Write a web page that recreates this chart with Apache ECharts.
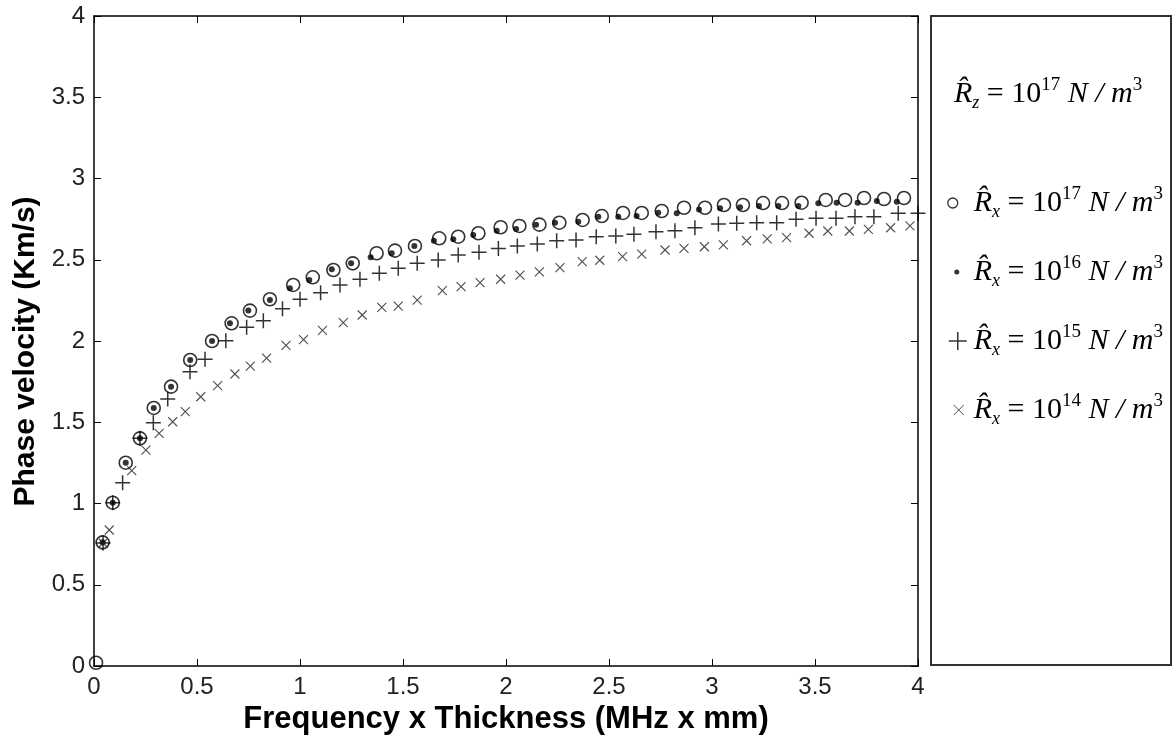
<!DOCTYPE html>
<html><head><meta charset="utf-8">
<script src="https://cdn.jsdelivr.net/npm/echarts@6/dist/echarts.min.js"></script>
<style>html,body{margin:0;padding:0;background:#fff}#c{width:1172px;height:740px}</style>
</head><body><div id="c"></div>
<script>
// ---- data ----
const xTickLabels = ['0','0.5','1','1.5','2','2.5','3','3.5','4'];
const yTickLabels = ['0','0.5','1','1.5','2','2.5','3','3.5','4'];

const r17X = [0.01,0.042,0.091,0.154,0.223,0.29,0.374,0.467,0.573,0.668,0.757,0.854,0.967,1.062,1.162,1.256,1.372,1.461,1.558,1.676,1.768,1.866,1.974,2.065,2.162,2.259,2.372,2.465,2.568,2.659,2.756,2.864,2.966,3.058,3.15,3.248,3.34,3.435,3.552,3.646,3.738,3.835,3.932];
const r17Y = [0.02,0.761,1.005,1.251,1.401,1.588,1.719,1.883,2.0,2.109,2.187,2.257,2.345,2.392,2.437,2.478,2.54,2.556,2.585,2.632,2.642,2.663,2.70,2.708,2.716,2.728,2.745,2.769,2.788,2.788,2.80,2.82,2.82,2.837,2.837,2.849,2.849,2.851,2.868,2.868,2.88,2.874,2.88];

const r16X = [0.042,0.091,0.154,0.223,0.29,0.374,0.467,0.573,0.66,0.749,0.854,0.951,1.045,1.154,1.248,1.343,1.445,1.555,1.65,1.744,1.841,1.955,2.049,2.146,2.238,2.351,2.448,2.545,2.634,2.739,2.829,2.937,3.039,3.136,3.228,3.322,3.419,3.516,3.605,3.707,3.8,3.897];
const r16Y = [0.761,1.005,1.251,1.401,1.588,1.719,1.883,2.0,2.109,2.187,2.252,2.324,2.375,2.441,2.478,2.515,2.54,2.585,2.617,2.626,2.652,2.679,2.689,2.716,2.728,2.734,2.765,2.765,2.769,2.79,2.786,2.81,2.817,2.823,2.831,2.831,2.831,2.847,2.851,2.851,2.862,2.857];

const r15X = [0.044,0.091,0.139,0.223,0.288,0.358,0.466,0.539,0.64,0.741,0.822,0.915,1.0,1.1,1.194,1.291,1.385,1.477,1.569,1.671,1.768,1.869,1.963,2.055,2.152,2.246,2.34,2.438,2.533,2.621,2.728,2.82,2.917,3.031,3.12,3.217,3.314,3.408,3.505,3.602,3.694,3.786,3.904,4.0];
const r15Y = [0.757,1.005,1.128,1.401,1.497,1.643,1.811,1.887,2.002,2.084,2.125,2.198,2.257,2.297,2.345,2.38,2.417,2.447,2.478,2.498,2.529,2.546,2.57,2.585,2.597,2.617,2.622,2.642,2.646,2.657,2.673,2.679,2.697,2.72,2.724,2.728,2.728,2.749,2.755,2.755,2.765,2.765,2.786,2.786];

const r14X = [0.044,0.074,0.183,0.252,0.316,0.382,0.443,0.518,0.6,0.684,0.759,0.838,0.932,1.017,1.109,1.21,1.302,1.397,1.477,1.569,1.691,1.782,1.874,1.974,2.068,2.162,2.262,2.37,2.455,2.566,2.659,2.772,2.864,2.963,3.055,3.168,3.268,3.362,3.471,3.562,3.667,3.759,3.867,3.961];
const r14Y = [0.757,0.837,1.202,1.329,1.432,1.503,1.565,1.657,1.725,1.797,1.846,1.895,1.973,2.008,2.065,2.113,2.16,2.207,2.215,2.252,2.31,2.334,2.359,2.38,2.406,2.426,2.451,2.488,2.497,2.519,2.534,2.56,2.57,2.58,2.591,2.617,2.628,2.636,2.663,2.677,2.677,2.687,2.697,2.708];

const seriesNames = ['Rx17','Rx16','Rx15','Rx14'];
const seriesExps = ['17','16','15','14'];
const titleExp = '17';
const xName = 'Frequency x Thickness (MHz x mm)';
const yName = 'Phase velocity (Km/s)';

// ---- build ----
const pairs = (xs, ys) => xs.map((x, i) => [x, ys[i]]);
const serif = 'Liberation Serif';
const rich = {
  R:   {fontFamily: serif, fontStyle: 'italic', fontSize: 30, lineHeight: 36, color: '#000'},
  sub: {fontFamily: serif, fontStyle: 'italic', fontSize: 18, lineHeight: 8, verticalAlign: 'bottom', color: '#000'},
  t:   {fontFamily: serif, fontSize: 30, lineHeight: 36, color: '#000'},
  sup: {fontFamily: serif, fontSize: 19, lineHeight: 20, verticalAlign: 'top', color: '#000'},
  it:  {fontFamily: serif, fontStyle: 'italic', fontSize: 30, lineHeight: 36, color: '#000'}
};
const eqText = (sub, exp) => '{R|R\u0302}{sub|' + sub + '}{t| = 10}{sup|' + exp + '}{it| N / m}{sup|3}';

const PLUS = 'path://M0,5L10,5M5,0L5,10';
const CROSS = 'path://M0,0L10,10M10,0L0,10';
const legendIcons = [
  'path://M0,0M28,24M17,12A5,5,0,1,1,7,12A5,5,0,1,1,17,12Z',
  'path://M0,0M28,24M18.5,12A2.5,2.5,0,1,1,13.5,12A2.5,2.5,0,1,1,18.5,12Z',
  'path://M0,0M28,24M8,12L26,12M17,3L17,21',
  'path://M0,0M28,24M13,7L23,17M23,7L13,17'
];
const legendStyles = [
  {color: 'transparent', borderColor: '#000', borderWidth: 1.3},
  {color: '#000', borderWidth: 0},
  {color: 'transparent', borderColor: '#000', borderWidth: 1.5},
  {color: 'transparent', borderColor: '#222', borderWidth: 1}
];

const axisLine = {show: true, onZero: false, lineStyle: {color: '#000', width: 1.5}};
const axisTick = {show: true, inside: true, length: 7, lineStyle: {color: '#000', width: 1}};
const tickFont = {fontFamily: 'Liberation Sans', fontSize: 24, color: '#222'};
const nameFont = {fontFamily: 'Liberation Sans', fontWeight: 'bold', color: '#000'};

const chart = echarts.init(document.getElementById('c'), null, {renderer: 'canvas'});
chart.setOption({
  animation: false,
  backgroundColor: '#fff',
  grid: {left: 94, top: 16, right: 254, bottom: 74, containLabel: false},
  xAxis: [
    {type: 'value', min: 0, max: 4, interval: 0.5, position: 'bottom',
     axisLine, axisTick, splitLine: {show: false},
     axisLabel: Object.assign({margin: 9, formatter: v => xTickLabels[Math.round(v / 0.5)]}, tickFont),
     name: xName, nameLocation: 'middle', nameGap: 28,
     nameTextStyle: Object.assign({fontSize: 31}, nameFont)},
    {type: 'value', min: 0, max: 4, interval: 0.5, position: 'top',
     axisLine, axisTick, splitLine: {show: false}, axisLabel: {show: false}}
  ],
  yAxis: [
    {type: 'value', min: 0, max: 4, interval: 0.5, position: 'left',
     axisLine, axisTick, splitLine: {show: false},
     axisLabel: Object.assign({margin: 9, formatter: v => yTickLabels[Math.round(v / 0.5)]}, tickFont),
     name: yName, nameLocation: 'middle', nameGap: 52,
     nameTextStyle: Object.assign({fontSize: 30, padding: [0, 21, 0, 0]}, nameFont)},
    {type: 'value', min: 0, max: 4, interval: 0.5, position: 'right',
     axisLine, axisTick, splitLine: {show: false}, axisLabel: {show: false}}
  ],
  legend: {
    orient: 'vertical', left: 935, top: 180, itemGap: 33,
    itemWidth: 28, itemHeight: 24, selectedMode: false,
    data: seriesNames.map((n, i) => ({name: n, icon: legendIcons[i], itemStyle: legendStyles[i]})),
    formatter: name => eqText('x', seriesExps[seriesNames.indexOf(name)]),
    textStyle: {rich}
  },
  graphic: [
    {type: 'rect', shape: {x: 931, y: 16, width: 240, height: 649},
     style: {fill: 'none', stroke: '#333', lineWidth: 2}, silent: true},
    {type: 'text', x: 954, y: 76, silent: true,
     style: {text: eqText('z', titleExp), rich}}
  ],
  series: [
    {name: seriesNames[0], type: 'scatter', data: pairs(r17X, r17Y), symbol: 'circle', symbolSize: 13,
     itemStyle: {color: 'transparent', borderColor: '#000', borderWidth: 1.6}, silent: true},
    {name: seriesNames[1], type: 'scatter', data: pairs(r16X, r16Y), symbol: 'circle', symbolSize: 6,
     itemStyle: {color: '#000', borderWidth: 0}, silent: true},
    {name: seriesNames[2], type: 'scatter', data: pairs(r15X, r15Y), symbol: PLUS, symbolSize: 15,
     itemStyle: {color: 'transparent', borderColor: '#000', borderWidth: 1.5}, silent: true},
    {name: seriesNames[3], type: 'scatter', data: pairs(r14X, r14Y), symbol: CROSS, symbolSize: 9,
     itemStyle: {color: 'transparent', borderColor: '#222', borderWidth: 1.1}, silent: true}
  ]
});
</script>
</body></html>
